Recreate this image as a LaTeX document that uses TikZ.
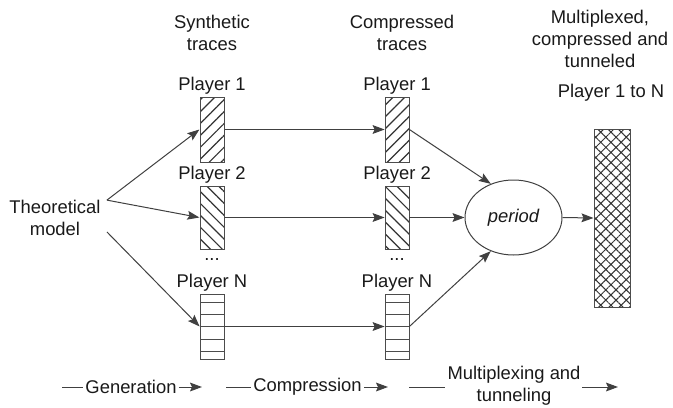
\documentclass[tikz,border=0pt]{standalone}
\usepackage{fontspec}
\setmainfont{Liberation Sans}
\usetikzlibrary{arrows.meta,patterns.meta,positioning,shapes.geometric}

\begin{document}
\begin{tikzpicture}[x=0.5pt,y=0.5pt,>={Stealth[length=6pt,width=4.4pt,inset=1pt]},
                    every node/.style={font=\fontsize{9.2}{11}\selectfont,text=black!90},
                    trace/.style={draw=black!70,minimum width=12pt,minimum height=32.5pt,
                      inner sep=0pt,pattern color=black!80},
                    rows/.style={path picture={
                      \foreach \d/\w in {12/0.5,6/0.9,0/0.5,-6.5/0.9,-12.5/0.5}
                        \draw[black!70,line width=\w pt]
                          ([yshift=\d pt]path picture bounding box.west) --
                          ([yshift=\d pt]path picture bounding box.east);}},
                    lbl/.style={align=center,inner sep=0pt},
                    conn/.style={->,black!75,line width=0.5pt}]
  \useasboundingbox (0,0) rectangle (673,-407);

  % column titles
  \node[lbl] (tsyn) at (212,-33)  {Synthetic\\traces};
  \node[lbl] (tcom) at (402,-33)  {Compressed\\traces};
  \node[lbl] (tmux) at (600,-39)  {Multiplexed,\\compressed and\\tunneled};
  \node[lbl] (tall) at (611,-93)  {Player 1 to N};

  \node[lbl,inner xsep=3pt] (model) at (55,-218) {Theoretical\\model};

  % synthetic traces
  \node[trace,pattern={Lines[angle=45,distance=4.2pt,line width=0.6pt]}]  (syn1) at (212,-129.5) {};
  \node[trace,pattern={Lines[angle=-45,distance=4.2pt,line width=0.6pt]},minimum height=31.5pt] (syn2) at (212,-217.5) {};
  \node[trace,rows]                                     (synN) at (212,-326.5) {};
  % compressed traces
  \node[trace,pattern={Lines[angle=45,distance=4.2pt,line width=0.6pt]}]  (com1) at (397,-129.5) {};
  \node[trace,pattern={Lines[angle=-45,distance=4.2pt,line width=0.6pt]},minimum height=31.5pt] (com2) at (397,-217.5) {};
  \node[trace,rows]                                     (comN) at (397,-326.5) {};

  \node[lbl,above=1pt of syn1] (psyn1) {Player 1};
  \node[lbl,above=1pt of syn2] (psyn2) {Player 2};
  \node[lbl,above=1pt of synN] (psynN) {Player N};
  \node[lbl,above=1pt of com1] (pcom1) {Player 1};
  \node[lbl,above=1pt of com2] (pcom2) {Player 2};
  \node[lbl,above=1pt of comN] (pcomN) {Player N};
  \node[lbl] (dsyn) at (212,-260) {...};
  \node[lbl] (dcom) at (397,-260) {...};

  \node[ellipse,draw=black!75,line width=0.5pt,minimum width=48.5pt,minimum height=37.5pt]
        (per) at (513.5,-217.5) {\itshape period};
  \node[draw=black!70,minimum width=18pt,minimum height=89pt,inner sep=0pt,
        pattern={Hatch[angle=45,distance=3.6pt,line width=0.5pt]},pattern color=black!80]
        (mux) at (612,-218) {};

  \path[conn] (model.19)  edge (syn1.west)
                          edge (syn2.west)
              (model.-15) edge (synN.west)
              (syn1.east) edge (com1.west)
              (syn2.east) edge (com2.west)
              (synN.east) edge (comN.west)
              (com1.east) edge (per.124)
              (com2.east) edge (per.west)
              (comN.east) edge (per.236)
              (per.east)  edge (mux.west);

  % phases
  \node[lbl,inner xsep=1pt] (gen) at (131,-387) {Generation};
  \node[lbl,inner xsep=1pt] (cmp) at (307.5,-387) {Compression};
  \node[lbl] (mpx) at (514,-386) {Multiplexing and\\tunneling};
  \coordinate (gen0) at (62,-387);  \coordinate (gen1) at (202,-387);
  \coordinate (cmp0) at (226,-387); \coordinate (cmp1) at (388,-387);
  \coordinate (mpx0) at (409,-387); \coordinate (mpx1) at (618,-387);
  \coordinate (mpxa) at (445,-387); \coordinate (mpxb) at (582,-387);
  \draw[black!75,line width=0.5pt] (gen0) -- (gen.west) (cmp0) -- (cmp.west) (mpx0) -- (mpxa);
  \path[conn] (gen.east) edge (gen1)
              (cmp.east) edge (cmp1)
              (mpxb)     edge (mpx1);
\end{tikzpicture}
\end{document}
